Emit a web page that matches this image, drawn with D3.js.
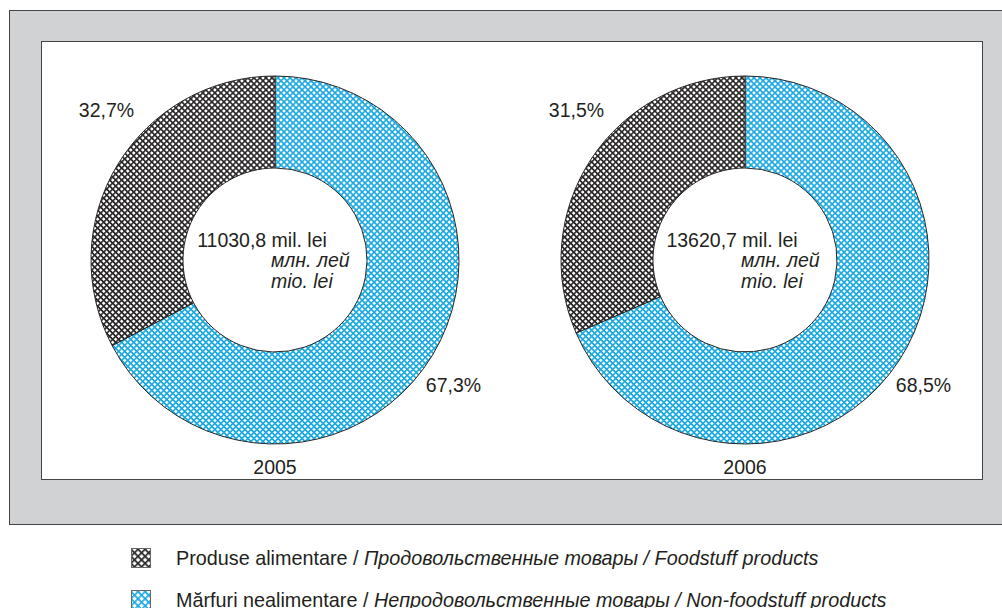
<!DOCTYPE html>
<html><head><meta charset="utf-8">
<script src="https://cdn.jsdelivr.net/npm/d3@7"></script>
<style>body{margin:0;background:#fff}svg{display:block;font-family:"Liberation Sans",Arial,sans-serif}</style>
</head><body><svg id="c" width="1002" height="608"></svg>
<script>
const years = ["2005", "2006"];
const totals = ["11030,8", "13620,7"];
const categories = ["Produse alimentare", "Mărfuri nealimentare"];
const foodShare = [32.7, 31.5];
const nonFoodShare = [67.3, 68.5];
const legendLabels = [
  ["Produse alimentare / ", "Продовольственные товары / Foodstuff products"],
  ["Mărfuri nealimentare / ", "Непродовольственные товары / Non-foodstuff products"]
];
const colors = ["#2a2727", "#1ba9e1"];

const svg = d3.select("#c");
const defs = svg.append("defs");
colors.forEach((c, i) => {
  const s = 4.25;
  const p = defs.append("pattern").attr("id", "pat" + i).attr("patternUnits", "userSpaceOnUse")
    .attr("width", s).attr("height", s).attr("patternTransform", "rotate(45)");
  p.append("rect").attr("width", s).attr("height", s).attr("fill", "#fff");
  p.append("path").attr("d", `M0,0.8H${s}M0.8,0V${s}`).attr("stroke", c).attr("stroke-width", 1.6);
  const q = defs.append("pattern").attr("id", "lpat" + i).attr("patternUnits", "userSpaceOnUse")
    .attr("width", 5).attr("height", 5).attr("patternTransform", "translate(131,548) rotate(45)");
  q.append("rect").attr("width", 5).attr("height", 5).attr("fill", "#fff");
  q.append("path").attr("d", "M0,0.8H5M0.8,0V5").attr("stroke", c).attr("stroke-width", 1.7);
});

// frames
svg.append("rect").attr("x", 9.5).attr("y", 10.5).attr("width", 1000).attr("height", 514)
  .attr("fill", "#d1d2d4").attr("stroke", "#444").attr("stroke-width", 1);
svg.append("rect").attr("x", 41.5).attr("y", 41.5).attr("width", 941).attr("height", 438)
  .attr("fill", "#fff").attr("stroke", "#444").attr("stroke-width", 1);

const cx = d3.scalePoint().domain(years).range([275, 745]);
const cy = 260, R = 184, r = 92;
const arc = d3.arc().innerRadius(r).outerRadius(R);
const pie = d3.pie().sort(null).value(d => d.v);
const fs = "19.5px";
const tc = "#231f20";

years.forEach((y, i) => {
  const data = [{k: 1, v: nonFoodShare[i]}, {k: 0, v: foodShare[i]}];
  const g = svg.append("g").attr("transform", `translate(${cx(y)},${cy})`);
  g.selectAll("path").data(pie(data)).join("path")
    .attr("d", arc).attr("fill", d => `url(#pat${d.data.k})`)
    .attr("stroke", "#2a2727").attr("stroke-width", 1);
  g.append("text").attr("x", -168.5).attr("y", -143).attr("text-anchor", "middle")
    .attr("font-size", fs).attr("fill", tc).text(foodShare[i].toFixed(1).replace(".", ",") + "%");
  g.append("text").attr("x", 178.5).attr("y", 132).attr("text-anchor", "middle")
    .attr("font-size", fs).attr("fill", tc).text(nonFoodShare[i].toFixed(1).replace(".", ",") + "%");
  g.append("text").attr("x", 0).attr("y", 214).attr("text-anchor", "middle")
    .attr("font-size", fs).attr("fill", tc).text(y);
  g.append("text").attr("x", -13).attr("y", -13).attr("text-anchor", "middle")
    .attr("font-size", fs).attr("fill", tc).text(totals[i] + " mil. lei");
  g.append("text").attr("x", -4).attr("y", 7).attr("font-style", "italic")
    .attr("font-size", fs).attr("fill", tc).text("млн. лей");
  g.append("text").attr("x", -4).attr("y", 28).attr("font-style", "italic")
    .attr("font-size", fs).attr("fill", tc).text("mio. lei");
});

const ly = d3.scaleBand().domain(categories).range([548, 632]).paddingInner(0);
categories.forEach((c, i) => {
  svg.append("rect").attr("x", 131.5).attr("y", ly(c) + 0.5).attr("width", 19).attr("height", 19)
    .attr("fill", `url(#lpat${i})`).attr("stroke", "#666").attr("stroke-width", 1);
  const t = svg.append("text").attr("x", 176).attr("y", ly(c) + 17).attr("font-size", "19.8px").attr("fill", tc);
  t.append("tspan").text(legendLabels[i][0]);
  t.append("tspan").attr("font-style", "italic").text(legendLabels[i][1]);
});
</script></body></html>
